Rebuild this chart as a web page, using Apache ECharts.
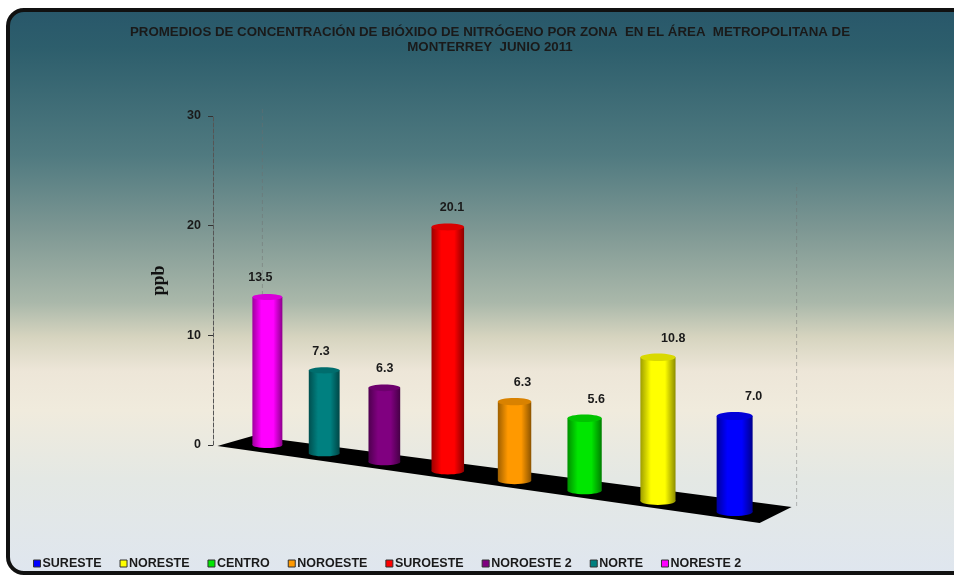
<!DOCTYPE html>
<html>
<head>
<meta charset="utf-8">
<script src="https://cdn.jsdelivr.net/npm/echarts@6/dist/echarts.min.js"></script>
<style>
  html, body { margin: 0; padding: 0; background: #fff; }
  #main { width: 954px; height: 575px; }
</style>
</head>
<body>
<div id="main"></div>
<script>
// datos por zona (orden de las barras, de izquierda a derecha)
var zones = ["NORESTE 2", "NORTE", "NOROESTE 2", "SUROESTE", "NOROESTE", "CENTRO", "NORESTE", "SURESTE"];
var values = [13.5, 7.3, 6.3, 20.1, 6.3, 5.6, 10.8, 7.0];
var colors = ["#ff00ff", "#008080", "#800080", "#ff0000", "#ff9900", "#00e600", "#ffff00", "#0000ff"];
var yTicks = [0, 10, 20, 30];
var legendOrder = zones.slice().reverse();

(function () {
  var myChart = echarts.init(document.getElementById("main"));

  const shade = (hex, k) => {
    var r = Math.round(parseInt(hex.slice(1, 3), 16) * k);
    var g = Math.round(parseInt(hex.slice(3, 5), 16) * k);
    var b = Math.round(parseInt(hex.slice(5, 7), 16) * k);
    return "rgb(" + r + "," + g + "," + b + ")";
  };

  // perspectiva: las barras de la derecha quedan mas cerca
  const place = (api, idx, val) => {
    var first = api.coord([0, 0]);
    var last = api.coord([zones.length - 1, 0]);
    var p = api.coord([idx, 0]);
    var top = api.coord([idx, val]);
    var u = (p[0] - first[0]) / (last[0] - first[0]);
    var f = 1 + 0.25 * u;
    var x = p[0] - 81 * u * (1 - u);
    var yb = p[1] + 56 * u + 11 * u * u;
    return { x: x, yb: yb, yt: yb - (p[1] - top[1]) * f, w: 30 * (1 + 0.2 * u), u: u };
  };

  const renderBar = (color) => {
    return function (params, api) {
      var g = place(api, api.value(0), api.value(1));
      var rx = g.w / 2, ry = 3 + g.u;
      var grad = new echarts.graphic.LinearGradient(0, 0, 1, 0, [
        { offset: 0, color: shade(color, 0.62) },
        { offset: 0.3, color: color },
        { offset: 0.7, color: color },
        { offset: 1, color: shade(color, 0.55) },
      ]);
      return {
        type: "group",
        children: [
          { type: "ellipse", shape: { cx: g.x, cy: g.yb, rx: rx, ry: ry }, style: { fill: grad } },
          { type: "rect", shape: { x: g.x - rx, y: g.yt, width: g.w, height: g.yb - g.yt }, style: { fill: grad } },
          { type: "ellipse", shape: { cx: g.x, cy: g.yt, rx: rx, ry: ry }, style: { fill: shade(color, 0.85) } },
          {
            type: "text",
            x: g.x - 7 + 26 * g.u,
            y: g.yt - 19,
            style: {
              text: api.value(1).toFixed(1),
              fill: "#1a1a1a",
              font: "bold 12.5px Arial, 'Liberation Sans', sans-serif",
              align: "center",
              verticalAlign: "middle",
            },
          },
        ],
      };
    };
  };

  const renderFloor = (params, api) => {
    var a = place(api, 0, 0);
    var b = place(api, zones.length - 1, 0);
    var h = a.yb - api.coord([0, yTicks[yTicks.length - 1]])[1];
    var wall = { stroke: "rgba(110,110,110,0.45)", lineWidth: 1, lineDash: [4, 3] };
    return {
      type: "group",
      children: [
        { type: "line", shape: { x1: a.x - 5, y1: a.yb - 10, x2: a.x - 5, y2: a.yb - 10 - h }, style: wall },
        { type: "line", shape: { x1: b.x + 62, y1: b.yb - 6, x2: b.x + 62, y2: b.yb - 6 - h * 0.98 }, style: wall },
        {
          type: "polygon",
          shape: {
            points: [
              [a.x - 50, a.yb + 1],
              [b.x + 25, b.yb + 11],
              [b.x + 57, b.yb - 5],
              [a.x - 15, a.yb - 9],
            ],
          },
          style: { fill: "#000" },
        },
      ],
    };
  };

  var series = [
    {
      name: "piso",
      type: "custom",
      z: 1,
      data: [[0, 0]],
      renderItem: renderFloor,
      silent: true,
    },
  ];
  zones.forEach(function (z, i) {
    series.push({
      name: z,
      type: "custom",
      z: 2,
      color: colors[i],
      data: [[i, values[i]]],
      renderItem: renderBar(colors[i]),
    });
  });

  var option = {
    animation: false,
    graphic: [
      {
        type: "rect",
        z: -10,
        silent: true,
        shape: { x: 8, y: 10, width: 980, height: 563, r: 16 },
        style: {
          stroke: "#111",
          lineWidth: 4,
          fill: new echarts.graphic.LinearGradient(0, 0, 0, 1, [
            { offset: 0, color: "#28576a" },
            { offset: 0.07, color: "#2d5e6c" },
            { offset: 0.26, color: "#507a80" },
            { offset: 0.39, color: "#7d9793" },
            { offset: 0.52, color: "#aab8aa" },
            { offset: 0.58, color: "#d6d4bf" },
            { offset: 0.64, color: "#ede6d8" },
            { offset: 0.71, color: "#f0ebdd" },
            { offset: 0.83, color: "#e4e8e4" },
            { offset: 1, color: "#dfe6ef" },
          ]),
        },
      },
    ],
    title: {
      text: "PROMEDIOS DE CONCENTRACIÓN DE BIÓXIDO DE NITRÓGENO POR ZONA  EN EL ÁREA  METROPOLITANA DE\nMONTERREY  JUNIO 2011",
      left: 485,
      top: 20,
      textAlign: "center",
      textStyle: {
        color: "#1a1a1a",
        fontSize: 13.3,
        fontWeight: "bold",
        lineHeight: 15,
        fontFamily: "Arial, 'Liberation Sans', sans-serif",
      },
    },
    legend: {
      data: legendOrder,
      left: 28,
      top: 552,
      icon: "rect",
      itemWidth: 7,
      itemHeight: 7,
      itemGap: 18,
      itemStyle: { borderColor: "#333", borderWidth: 1 },
      textStyle: {
        color: "#1a1a1a",
        fontSize: 12.5,
        fontWeight: "bold",
        fontFamily: "Arial, 'Liberation Sans', sans-serif",
        padding: [0, 0, 0, -3],
      },
    },
    grid: { left: 234, width: 534, top: 116, bottom: 130 },
    xAxis: {
      type: "category",
      data: zones,
      show: false,
    },
    yAxis: {
      type: "value",
      min: yTicks[0],
      max: yTicks[yTicks.length - 1],
      interval: 10,
      offset: 21,
      name: "ppb",
      nameLocation: "middle",
      nameRotate: 90,
      nameGap: 45,
      nameTextStyle: {
        color: "#111",
        fontSize: 18,
        fontWeight: "bold",
        fontFamily: "'Liberation Serif', 'Times New Roman', serif",
      },
      axisLine: { show: true, lineStyle: { color: "#555", type: "dashed", width: 1 } },
      axisTick: { show: true, length: 5, lineStyle: { color: "#333" } },
      axisLabel: {
        color: "#1a1a1a",
        fontSize: 12.5,
        fontWeight: "bold",
        fontFamily: "Arial, 'Liberation Sans', sans-serif",
        margin: 12,
      },
      splitLine: { show: false },
    },
    series: series,
  };

  myChart.setOption(option);
  window.addEventListener("resize", function () {
    myChart.resize();
  });
})();
</script>
</body>
</html>
